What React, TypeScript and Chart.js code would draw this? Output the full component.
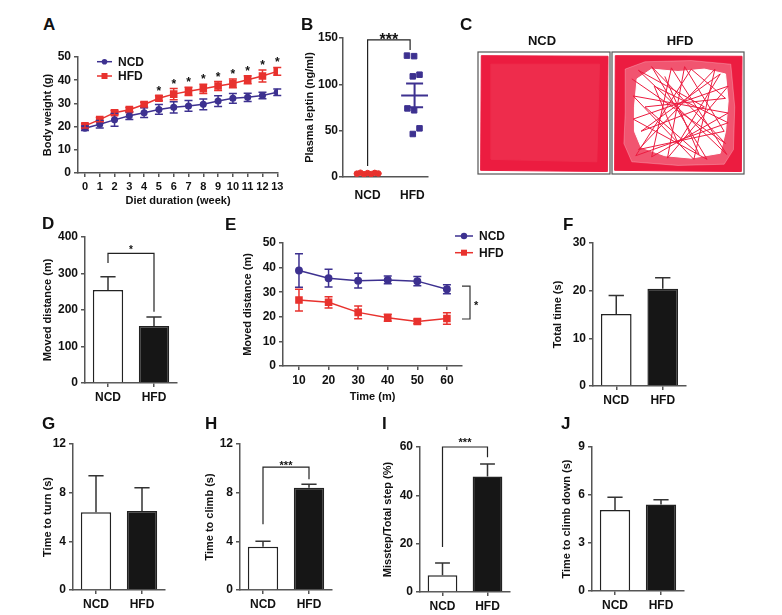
import React, { useEffect, useRef } from 'react';
import { Chart, registerables } from 'chart.js';

Chart.register(...registerables);

const FONT_FAMILY = '"Liberation Sans", Arial, Helvetica, sans-serif';
Chart.defaults.font.family = FONT_FAMILY;
Chart.defaults.color = '#111';

const INK = '#111111';
const AXIS = '#555555';
const NCD_COLOR = '#3d3190';
const HFD_COLOR = '#e8322e';
const TRACK = '#ec1c40';
const TRACK_DENSE = '#ee2c4c';

// ---------- A: body weight ----------
const weeks = [0, 1, 2, 3, 4, 5, 6, 7, 8, 9, 10, 11, 12, 13];
const weightNCD = [19.3, 21.0, 22.9, 24.7, 26.0, 27.4, 28.3, 28.9, 29.6, 31.0, 32.2, 32.6, 33.4, 34.8];
const weightNCDErr = [1.0, 1.6, 2.7, 1.6, 2.1, 2.1, 2.4, 2.3, 2.3, 2.3, 2.1, 1.8, 1.4, 1.4];
const weightHFD = [20.3, 23.0, 26.0, 27.3, 29.5, 32.2, 34.0, 35.2, 36.3, 37.5, 38.6, 40.2, 41.8, 43.8];
const weightHFDErr = [0.9, 0.9, 0.9, 0.9, 1.0, 1.1, 2.4, 1.8, 2.0, 1.9, 1.9, 1.7, 2.6, 1.7];
const weightSigWeeks = [5, 6, 7, 8, 9, 10, 11, 12, 13];

// ---------- B: plasma leptin ----------
const groups = ['NCD', 'HFD'];
const leptinNCD = [3.6, 4.6, 3.0, 4.2, 3.2, 4.4, 3.8];
const leptinNCDJitter = [0.76, 0.84, 0.92, 1.0, 1.08, 1.16, 1.24];
const leptinHFD = [131, 130.4, 108.6, 110.4, 74, 72, 52.5, 46.4];
const leptinHFDJitter = [1.88, 2.04, 2.01, 2.16, 1.89, 2.04, 2.16, 2.01];
const leptinMean = [3.9, 88];
const leptinSem = [0.3, 12.8];

// ---------- C: open field tracks (unit square of the arena) ----------
const arenaOuter = [[0.02, 0.03], [0.98, 0.02], [0.985, 0.965], [0.025, 0.97], [0.02, 0.03]];
const ncdInner = [[0.1, 0.12], [0.9, 0.1], [0.92, 0.9], [0.1, 0.9], [0.1, 0.12]];
const hfdMidZone = [[0.1, 0.5], [0.1, 0.86], [0.25, 0.92], [0.6, 0.93], [0.9, 0.9], [0.93, 0.55], [0.92, 0.2], [0.85, 0.08], [0.5, 0.07], [0.15, 0.1], [0.09, 0.25], [0.1, 0.5]];
const hfdOpenZone = [[0.17, 0.55], [0.19, 0.78], [0.3, 0.86], [0.5, 0.84], [0.7, 0.86], [0.86, 0.82], [0.88, 0.6], [0.86, 0.35], [0.82, 0.17], [0.6, 0.13], [0.4, 0.15], [0.22, 0.22], [0.17, 0.35], [0.17, 0.55]];
const hfdTrack = [[0.15, 0.78], [0.86, 0.25], [0.3, 0.88], [0.72, 0.12], [0.16, 0.45], [0.88, 0.72], [0.42, 0.13], [0.55, 0.88], [0.85, 0.35], [0.2, 0.2], [0.78, 0.86], [0.62, 0.12], [0.16, 0.64], [0.88, 0.5], [0.3, 0.14], [0.45, 0.87], [0.87, 0.16], [0.2, 0.85], [0.7, 0.55], [0.22, 0.35], [0.82, 0.82], [0.5, 0.25], [0.32, 0.72], [0.88, 0.42], [0.18, 0.15], [0.6, 0.86], [0.86, 0.62], [0.25, 0.55], [0.66, 0.16], [0.4, 0.8]];

// ---------- D: moved distance ----------
const distanceTotal = [255, 156];
const distanceTotalErr = [36, 25];

// ---------- E: moved distance over time ----------
const times = [10, 20, 30, 40, 50, 60];
const distNCD = [38.8, 35.7, 34.7, 35.0, 34.5, 31.2];
const distNCDErr = [6.8, 3.6, 3.0, 1.6, 1.9, 1.8];
const distHFD = [26.8, 25.9, 21.8, 19.6, 18.1, 19.3];
const distHFDErr = [4.4, 2.3, 2.6, 1.4, 0.9, 2.3];

// ---------- F-J: bar panels ----------
const totalTime = [15.1, 20.4];
const totalTimeErr = [3.9, 2.3];
const turnTime = [6.4, 6.5];
const turnTimeErr = [3.0, 1.9];
const climbTime = [3.55, 8.4];
const climbTimeErr = [0.45, 0.3];
const misstep = [6.9, 47.8];
const misstepErr = [5.1, 5.2];
const climbDown = [5.06, 5.4];
const climbDownErr = [0.8, 0.3];

const tickFont = { size: 12, weight: 'bold' as const, family: FONT_FAMILY };
const smallTickFont = { size: 11, weight: 'bold' as const, family: FONT_FAMILY };
const titleFont = { size: 11, weight: 'bold' as const, family: FONT_FAMILY };

function yAxis(min: number, max: number, step: number, title: string, width: number, pad = 3) {
  return {
    type: 'linear', min, max,
    ticks: { stepSize: step, font: tickFont, color: INK, padding: pad },
    grid: { display: true, drawOnChartArea: false, drawTicks: true, tickLength: 4, color: AXIS, lineWidth: 1.5 },
    border: { display: true, color: AXIS, width: 1.5 },
    title: { display: true, text: title, font: titleFont, color: INK, padding: { top: 4, bottom: 4 } },
    afterFit: (s: any) => { s.width = width; },
  };
}

function catAxis(height: number) {
  return {
    type: 'category', offset: true,
    ticks: { font: tickFont, color: INK, padding: 3, autoSkip: false, maxRotation: 0 },
    grid: { display: true, drawOnChartArea: false, drawTicks: true, tickLength: 4, color: AXIS, lineWidth: 1.5, offset: false },
    border: { display: true, color: AXIS, width: 1.5 },
    afterFit: (s: any) => { s.height = height; },
  };
}

function linXAxis(min: number, max: number, tickVals: number[], height: number, title?: string, labels?: string[], showTicks = true, font: any = tickFont) {
  return {
    type: 'linear', min, max,
    afterBuildTicks: (s: any) => { s.ticks = tickVals.map((v) => ({ value: v })); },
    ticks: {
      font, color: INK, padding: showTicks ? 3 : 7, autoSkip: false, maxRotation: 0,
      callback: (v: any, i: number) => (labels ? labels[i] : String(v)),
    },
    grid: { display: showTicks, drawOnChartArea: false, drawTicks: true, tickLength: 4, color: AXIS, lineWidth: 1.5 },
    border: { display: true, color: AXIS, width: 1.5 },
    title: { display: !!title, text: title || '', font: titleFont, color: INK, padding: { top: 4, bottom: 4 } },
    afterFit: (s: any) => { s.height = height; },
  };
}

function baseOptions(pad: any, scales: any) {
  return {
    responsive: false,
    animation: false,
    events: [],
    layout: { padding: pad },
    plugins: { legend: { display: false }, tooltip: { enabled: false }, title: { display: false } },
    scales,
  };
}

const errorBarPlugin = {
  id: 'errorBars',
  afterDatasetsDraw(chart: any) {
    const ctx = chart.ctx;
    const y = chart.scales.y;
    chart.data.datasets.forEach((ds: any, i: number) => {
      if (!ds.errors) return;
      const meta = chart.getDatasetMeta(i);
      ctx.save();
      ctx.strokeStyle = ds.errorColor || ds.borderColor;
      ctx.lineWidth = 1.5;
      meta.data.forEach((el: any, j: number) => {
        const raw = ds.data[j];
        const val = typeof raw === 'number' ? raw : raw.y;
        const e = ds.errors[j];
        const px = el.x;
        const top = y.getPixelForValue(val + e);
        const bot = ds.errorUpOnly ? y.getPixelForValue(val) : y.getPixelForValue(val - e);
        const half = ds.errorUpOnly ? el.width * 0.25 : (ds.capHalf || 4);
        ctx.beginPath();
        ctx.moveTo(px, bot); ctx.lineTo(px, top);
        ctx.moveTo(px - half, top); ctx.lineTo(px + half, top);
        if (!ds.errorUpOnly) { ctx.moveTo(px - half, bot); ctx.lineTo(px + half, bot); }
        ctx.stroke();
      });
      ctx.restore();
    });
  },
};

function bracketPlugin(b: { x1: number; x2: number; y1: number; yTop: number; y2: number; label: string; size: number; dy: number }) {
  return {
    id: 'sigBracket',
    afterDatasetsDraw(chart: any) {
      const { ctx, scales: { x, y } } = chart;
      const px1 = x.getPixelForValue(b.x1);
      const px2 = x.getPixelForValue(b.x2);
      const py1 = y.getPixelForValue(b.y1);
      const pyT = y.getPixelForValue(b.yTop);
      const py2 = y.getPixelForValue(b.y2);
      ctx.save();
      ctx.strokeStyle = '#222';
      ctx.lineWidth = 1.2;
      ctx.beginPath();
      ctx.moveTo(px1, py1); ctx.lineTo(px1, pyT); ctx.lineTo(px2, pyT); ctx.lineTo(px2, py2);
      ctx.stroke();
      ctx.fillStyle = INK;
      ctx.font = `bold ${b.size}px ${FONT_FAMILY}`;
      ctx.textAlign = 'center';
      ctx.textBaseline = 'alphabetic';
      ctx.fillText(b.label, (px1 + px2) / 2, pyT + b.dy);
      ctx.restore();
    },
  };
}

function legendPlugin(cfg: { x: number; y: number; dy: number; len: number; items: { label: string; color: string; style: string; r: number }[] }) {
  return {
    id: 'miniLegend',
    afterDraw(chart: any) {
      const { ctx, chartArea } = chart;
      cfg.items.forEach((it, i) => {
        const x0 = chartArea.left + cfg.x;
        const yy = chartArea.top + cfg.y + i * cfg.dy;
        const xm = x0 + cfg.len / 2;
        ctx.save();
        ctx.strokeStyle = it.color;
        ctx.fillStyle = it.color;
        ctx.lineWidth = 1.5;
        ctx.beginPath(); ctx.moveTo(x0, yy); ctx.lineTo(x0 + cfg.len, yy); ctx.stroke();
        if (it.style === 'rect') ctx.fillRect(xm - it.r, yy - it.r, it.r * 2, it.r * 2);
        else { ctx.beginPath(); ctx.arc(xm, yy, it.r, 0, Math.PI * 2); ctx.fill(); }
        ctx.fillStyle = INK;
        ctx.font = `bold 12px ${FONT_FAMILY}`;
        ctx.textAlign = 'left';
        ctx.textBaseline = 'middle';
        ctx.fillText(it.label, x0 + cfg.len + 6, yy + 0.5);
        ctx.restore();
      });
    },
  };
}

const weekStarsPlugin = {
  id: 'weekStars',
  afterDatasetsDraw(chart: any) {
    const { ctx, scales: { x, y } } = chart;
    ctx.save();
    ctx.fillStyle = INK;
    ctx.font = `bold 12px ${FONT_FAMILY}`;
    ctx.textAlign = 'center';
    ctx.textBaseline = 'alphabetic';
    weightSigWeeks.forEach((w) => {
      const i = weeks.indexOf(w);
      ctx.fillText('*', x.getPixelForValue(w), y.getPixelForValue(weightHFD[i] + weightHFDErr[i]) - 1);
    });
    ctx.restore();
  },
};

function sideBracketPlugin(yHi: number, yLo: number, label: string) {
  return {
    id: 'sideBracket',
    afterDatasetsDraw(chart: any) {
      const { ctx, chartArea, scales: { y } } = chart;
      const x0 = chartArea.right;
      const xv = chartArea.right + 8;
      const p1 = y.getPixelForValue(yHi);
      const p2 = y.getPixelForValue(yLo);
      ctx.save();
      ctx.strokeStyle = '#333';
      ctx.lineWidth = 1.2;
      ctx.beginPath();
      ctx.moveTo(x0, p1); ctx.lineTo(xv, p1); ctx.lineTo(xv, p2); ctx.lineTo(x0, p2);
      ctx.stroke();
      ctx.fillStyle = INK;
      ctx.font = `bold 11px ${FONT_FAMILY}`;
      ctx.textAlign = 'left';
      ctx.textBaseline = 'alphabetic';
      ctx.fillText(label, xv + 4, (p1 + p2) / 2 + 6);
      ctx.restore();
    },
  };
}

function meanSemPlugin(centers: number[], colors: string[]) {
  return {
    id: 'meanSem',
    afterDatasetsDraw(chart: any) {
      const { ctx, scales: { x, y } } = chart;
      centers.forEach((c, i) => {
        const m = y.getPixelForValue(leptinMean[i]);
        const hi = y.getPixelForValue(leptinMean[i] + leptinSem[i]);
        const lo = y.getPixelForValue(leptinMean[i] - leptinSem[i]);
        const xl = x.getPixelForValue(c - 0.3);
        const xr = x.getPixelForValue(c + 0.3);
        const cl = x.getPixelForValue(c - 0.19);
        const cr = x.getPixelForValue(c + 0.19);
        const xc = x.getPixelForValue(c);
        ctx.save();
        ctx.strokeStyle = colors[i];
        ctx.lineWidth = 2;
        ctx.beginPath();
        ctx.moveTo(xl, m); ctx.lineTo(xr, m);
        ctx.moveTo(xc, hi); ctx.lineTo(xc, lo);
        ctx.moveTo(cl, hi); ctx.lineTo(cr, hi);
        ctx.moveTo(cl, lo); ctx.lineTo(cr, lo);
        ctx.stroke();
        ctx.restore();
      });
    },
  };
}

const framePlugin = {
  id: 'frame',
  afterDraw(chart: any) {
    const { ctx, chartArea } = chart;
    ctx.save();
    ctx.strokeStyle = '#555';
    ctx.lineWidth = 1.2;
    ctx.strokeRect(chartArea.left, chartArea.top, chartArea.right - chartArea.left, chartArea.bottom - chartArea.top);
    ctx.restore();
  },
};

function ChartBox({ left, top, width, height, make }: { left: number; top: number; width: number; height: number; make: () => any }) {
  const ref = useRef<HTMLCanvasElement | null>(null);
  useEffect(() => {
    if (!ref.current) return;
    const chart = new Chart(ref.current, make());
    return () => chart.destroy();
  }, []);
  return (
    <div style={{ position: 'absolute', left, top, width, height }}>
      <canvas ref={ref} width={width} height={height} style={{ display: 'block', width, height }} />
    </div>
  );
}

function barConfig(values: number[], errs: number[], yMin: number, yMax: number, step: number, title: string, yW: number, padTop: number, xH: number, extra: any[] = []) {
  return {
    type: 'bar',
    data: {
      labels: groups,
      datasets: [{
        data: values,
        backgroundColor: ['#ffffff', '#161616'],
        borderColor: '#222',
        borderWidth: 1.5,
        barPercentage: 0.66,
        categoryPercentage: 1,
        errors: errs,
        errorUpOnly: true,
        errorColor: '#333',
      }],
    },
    options: baseOptions({ left: 0, top: padTop, right: 10, bottom: 0 }, {
      x: catAxis(xH),
      y: yAxis(yMin, yMax, step, title, yW),
    }),
    plugins: [errorBarPlugin, ...extra],
  };
}

function polygon(pts: number[][], fillColor: string, order: number) {
  return {
    data: pts.map((p) => ({ x: p[0], y: p[1] })),
    showLine: true,
    fill: 'shape',
    backgroundColor: fillColor,
    borderColor: fillColor,
    borderWidth: 1,
    pointRadius: 0,
    order,
  };
}

function pathLine(pts: number[][], color: string, width: number, order: number) {
  return {
    data: pts.map((p) => ({ x: p[0], y: p[1] })),
    showLine: true,
    borderColor: color,
    borderWidth: width,
    pointRadius: 0,
    order,
  };
}

function arenaConfig(datasets: any[]) {
  return {
    type: 'scatter',
    data: { datasets },
    options: baseOptions(2, {
      x: { type: 'linear', min: 0, max: 1, display: false },
      y: { type: 'linear', min: 0, max: 1, display: false },
    }),
    plugins: [framePlugin],
  };
}

function Label({ text, x, y, size, center }: { text: string; x: number; y: number; size: number; center?: boolean }) {
  return (
    <div style={{
      position: 'absolute', left: center ? x - 50 : x, top: y, width: center ? 100 : undefined,
      textAlign: center ? 'center' : 'left', fontFamily: FONT_FAMILY, fontWeight: 'bold',
      fontSize: size, lineHeight: `${size}px`, color: INK, whiteSpace: 'nowrap',
    }}>{text}</div>
  );
}

export default function App() {
  const makeA = () => ({
    type: 'line',
    data: {
      datasets: [
        {
          data: weeks.map((w, i) => ({ x: w, y: weightNCD[i] })),
          borderColor: NCD_COLOR, backgroundColor: NCD_COLOR, borderWidth: 1.5,
          pointStyle: 'circle', pointRadius: 2.8, errors: weightNCDErr, capHalf: 4,
        },
        {
          data: weeks.map((w, i) => ({ x: w, y: weightHFD[i] })),
          borderColor: HFD_COLOR, backgroundColor: HFD_COLOR, borderWidth: 1.5,
          pointStyle: 'rect', pointRadius: 4.3, errors: weightHFDErr, capHalf: 4,
        },
      ],
    },
    options: baseOptions({ left: 0, top: 14, right: 12, bottom: 0 }, {
      x: linXAxis(-0.47, 13.05, weeks, 39, 'Diet duration (week)', undefined, true, smallTickFont),
      y: yAxis(0, 50, 10, 'Body weight (g)', 41),
    }),
    plugins: [errorBarPlugin, weekStarsPlugin, legendPlugin({
      x: 19, y: 4.7, dy: 14.3, len: 15,
      items: [
        { label: 'NCD', color: NCD_COLOR, style: 'circle', r: 2.8 },
        { label: 'HFD', color: HFD_COLOR, style: 'rect', r: 3 },
      ],
    })],
  });

  const makeB = () => ({
    type: 'scatter',
    data: {
      datasets: [
        {
          data: leptinNCD.map((v, i) => ({ x: leptinNCDJitter[i], y: v })),
          backgroundColor: HFD_COLOR, borderColor: HFD_COLOR, pointStyle: 'circle', pointRadius: 2.8,
        },
        {
          data: leptinHFD.map((v, i) => ({ x: leptinHFDJitter[i], y: v })),
          backgroundColor: NCD_COLOR, borderColor: NCD_COLOR, pointStyle: 'rect', pointRadius: 3.9,
        },
      ],
    },
    options: baseOptions({ left: 0, top: 14, right: 10, bottom: 0 }, {
      x: linXAxis(0.45, 2.35, [1, 2], 22, undefined, groups, false),
      y: yAxis(0, 150, 50, 'Plasma leptin (ng/ml)', 44, 1),
    }),
    plugins: [
      meanSemPlugin([1.01, 2.05], [HFD_COLOR, NCD_COLOR]),
      bracketPlugin({ x1: 1, x2: 1.95, y1: 12, yTop: 148, y2: 137, label: '***', size: 16, dy: 5 }),
    ],
  });

  const makeCNCD = () => arenaConfig([
    polygon(ncdInner, TRACK_DENSE, 2),
    polygon(arenaOuter, TRACK, 3),
  ]);

  const makeCHFD = () => arenaConfig([
    pathLine(hfdTrack, TRACK, 1, 1),
    polygon(hfdOpenZone, '#ffffff', 2),
    polygon(hfdMidZone, 'rgba(255,255,255,0.25)', 3),
    polygon(arenaOuter, TRACK, 4),
  ]);

  const makeD = () => barConfig(distanceTotal, distanceTotalErr, 0, 400, 100, 'Moved distance (m)', 48, 18, 24, [
    bracketPlugin({ x1: 0, x2: 1, y1: 329, yTop: 355, y2: 195, label: '*', size: 10, dy: 0 }),
  ]);

  const makeE = () => ({
    type: 'line',
    data: {
      datasets: [
        {
          data: times.map((t, i) => ({ x: t, y: distNCD[i] })),
          borderColor: NCD_COLOR, backgroundColor: NCD_COLOR, borderWidth: 1.5,
          pointStyle: 'circle', pointRadius: 3.2, errors: distNCDErr, capHalf: 4,
        },
        {
          data: times.map((t, i) => ({ x: t, y: distHFD[i] })),
          borderColor: HFD_COLOR, backgroundColor: HFD_COLOR, borderWidth: 1.5,
          pointStyle: 'rect', pointRadius: 4.3, errors: distHFDErr, capHalf: 4,
        },
      ],
    },
    options: baseOptions({ left: 0, top: 20, right: 60, bottom: 0 }, {
      x: linXAxis(4.6, 65.1, times, 42, 'Time (m)'),
      y: yAxis(0, 50, 10, 'Moved distance (m)', 46),
    }),
    plugins: [errorBarPlugin, sideBracketPlugin(32.5, 19.1, '*'), legendPlugin({
      x: 172, y: -7, dy: 16.7, len: 18,
      items: [
        { label: 'NCD', color: NCD_COLOR, style: 'circle', r: 3.2 },
        { label: 'HFD', color: HFD_COLOR, style: 'rect', r: 3 },
      ],
    })],
  });

  const makeF = () => barConfig(totalTime, totalTimeErr, 0, 30, 10, 'Total time (s)', 46, 14, 24);
  const makeG = () => barConfig(turnTime, turnTimeErr, 0, 12, 4, 'Time to turn (s)', 36, 14, 24);
  const makeH = () => barConfig(climbTime, climbTimeErr, 0, 12, 4, 'Time to climb (s)', 41, 14, 24, [
    bracketPlugin({ x1: 0, x2: 1, y1: 5.4, yTop: 10.1, y2: 9.1, label: '***', size: 11, dy: 2 }),
  ]);
  const makeI = () => barConfig(misstep, misstepErr, 0, 60, 20, 'Misstep/Total step (%)', 43, 16, 22, [
    bracketPlugin({ x1: 0, x2: 1, y1: 18.6, yTop: 60, y2: 55.8, label: '***', size: 11, dy: -1 }),
  ]);
  const makeJ = () => barConfig(climbDown, climbDownErr, 0, 9, 3, 'Time to climb down (s)', 36, 14, 23);

  return (
    <div style={{ position: 'absolute', left: 0, top: 0, width: 782, height: 615, background: '#fff', overflow: 'hidden' }}>
      <ChartBox left={37} top={43} width={253} height={169} make={makeA} />
      <ChartBox left={299} top={24} width={139} height={175} make={makeB} />
      <ChartBox left={476} top={50} width={136} height={126} make={makeCNCD} />
      <ChartBox left={610} top={50} width={136} height={126} make={makeCHFD} />
      <ChartBox left={37} top={219} width={150} height={188} make={makeD} />
      <ChartBox left={237} top={223} width={285} height={185} make={makeE} />
      <ChartBox left={547} top={229} width={149} height={181} make={makeF} />
      <ChartBox left={37} top={430} width={138} height={184} make={makeG} />
      <ChartBox left={199} top={430} width={143} height={184} make={makeH} />
      <ChartBox left={377} top={431} width={143} height={183} make={makeI} />
      <ChartBox left={556} top={433} width={138} height={181} make={makeJ} />

      <Label text="A" x={43} y={16} size={17} />
      <Label text="B" x={301} y={16} size={17} />
      <Label text="C" x={460} y={16} size={17} />
      <Label text="D" x={42} y={215} size={17} />
      <Label text="E" x={225} y={216} size={17} />
      <Label text="F" x={563} y={216} size={17} />
      <Label text="G" x={42} y={415} size={17} />
      <Label text="H" x={205} y={415} size={17} />
      <Label text="I" x={382} y={415} size={17} />
      <Label text="J" x={561} y={415} size={17} />
      <Label text="NCD" x={542} y={34} size={13} center />
      <Label text="HFD" x={680} y={34} size={13} center />
    </div>
  );
}
